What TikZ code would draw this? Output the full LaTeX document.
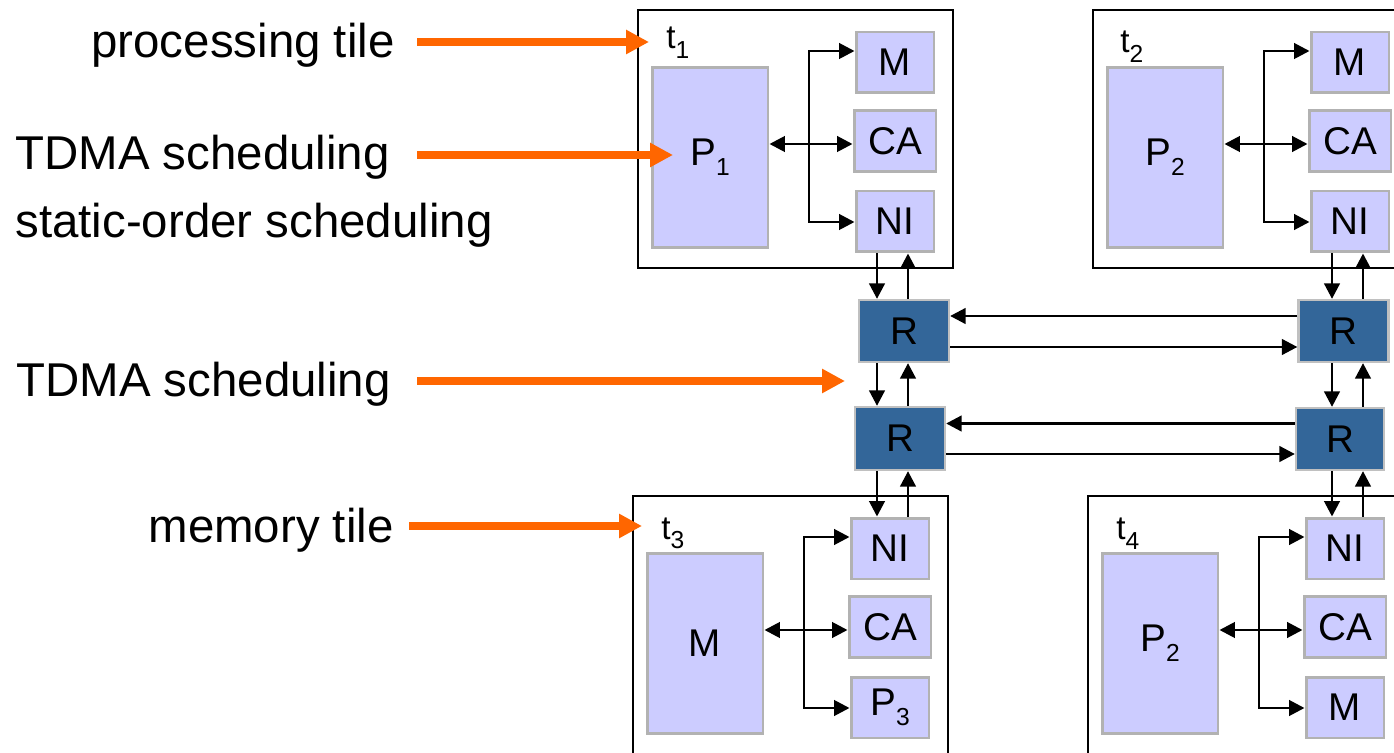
\documentclass[tikz,border=0pt]{standalone}
\usepackage{fontspec}
\setmainfont{Liberation Sans}
\usetikzlibrary{arrows.meta}

\definecolor{unitfill}{HTML}{CCCCFF}
\definecolor{unitline}{HTML}{B2B2B2}
\definecolor{routerfill}{HTML}{336699}
\definecolor{routerline}{HTML}{C0C0C0}
\definecolor{noteorange}{HTML}{FF6600}

\newcommand{\subidx}[1]{\raisebox{-5.5pt}{\fontsize{14pt}{14pt}\selectfont #1}}

\begin{document}
\begin{tikzpicture}[x=0.02cm, y=-0.02cm]
    \tikzstyle{tile} = [rectangle, draw, line width=1.5pt, inner sep=0pt, minimum width=6.3cm]
    \tikzstyle{unit} = [rectangle, draw=unitline, fill=unitfill, line width=1.7pt, inner sep=0pt, minimum width=1.56cm, minimum height=1.22cm, font=\fontsize{22pt}{26pt}\selectfont]
    \tikzstyle{core} = [unit, minimum width=2.32cm, minimum height=3.62cm]
    \tikzstyle{router} = [rectangle, draw=routerline, fill=routerfill, line width=1.3pt, inner sep=0pt, minimum width=1.8cm, minimum height=1.24cm, font=\fontsize{22pt}{26pt}\selectfont]
    \tikzstyle{tname} = [inner sep=0pt, anchor=base west, font=\fontsize{19pt}{22pt}\selectfont]
    \tikzstyle{lbl} = [inner sep=0pt, font=\fontsize{27pt}{32pt}\selectfont]
    \tikzstyle{arrow} = [line width=1.6pt, ->, >={Triangle[length=0.31cm,width=0.31cm]}]
    \tikzstyle{note} = [draw=noteorange, line width=4.5pt, -{Triangle[length=0.46cm,width=0.46cm]}]

    \useasboundingbox (0,0) rectangle (1394,753);
    \clip (0,0) rectangle (1394,753);

    % tiles
    \node [tile, minimum height=5.16cm] (tile1) at (795.5,139) {};
    \node [tile, minimum height=5.16cm] (tile2) at (1250.5,139) {};
    \node [tile, minimum height=5.4cm] (tile3) at (790.5,631) {};
    \node [tile, minimum height=5.4cm] (tile4) at (1245.5,631) {};
    \node [tname] (n1) at (666,49) {t\subidx{1}};
    \node [tname] (n2) at (1120,53) {t\subidx{2}};
    \node [tname] (n3) at (661,539) {t\subidx{3}};
    \node [tname] (n4) at (1116,540) {t\subidx{4}};

    % tile 1
    \node [core] (P1) at (710,157.5) {P\subidx{1}};
    \node [unit] (M1) at (895,62.5) {M};
    \node [unit, minimum width=1.64cm] (CA1) at (895,141) {CA};
    \node [unit] (NI1) at (895,221.5) {NI};
    \coordinate (b1t) at (809,51);
    \coordinate (b1m) at (809,144);
    \coordinate (b1b) at (809,222);
    \draw [arrow, <->] (M1.west |- b1t) -- (b1t) -- (b1b) -- (NI1.west |- b1b);
    \draw [arrow, <->] (P1.east |- b1m) -- (CA1.west |- b1m);

    % tile 2
    \node [core] (P2) at (1165,157.5) {P\subidx{2}};
    \node [unit] (M2) at (1350,62.5) {M};
    \node [unit, minimum width=1.64cm] (CA2) at (1350,141) {CA};
    \node [unit] (NI2) at (1350,221.5) {NI};
    \coordinate (b2t) at (1264,51);
    \coordinate (b2m) at (1264,144);
    \coordinate (b2b) at (1264,222);
    \draw [arrow, <->] (M2.west |- b2t) -- (b2t) -- (b2b) -- (NI2.west |- b2b);
    \draw [arrow, <->] (P2.east |- b2m) -- (CA2.west |- b2m);

    % tile 3
    \node [core] (M3) at (705,643.5) {M};
    \node [unit] (NI3) at (890,548.5) {NI};
    \node [unit, minimum width=1.64cm] (CA3) at (890,627) {CA};
    \node [unit] (P3) at (890,707.5) {P\subidx{3}};
    \coordinate (b3t) at (804,537);
    \coordinate (b3m) at (804,630);
    \coordinate (b3b) at (804,708);
    \draw [arrow, <->] (NI3.west |- b3t) -- (b3t) -- (b3b) -- (P3.west |- b3b);
    \draw [arrow, <->] (M3.east |- b3m) -- (CA3.west |- b3m);

    % tile 4
    \node [core] (P4) at (1160,643.5) {P\subidx{2}};
    \node [unit] (NI4) at (1345,548.5) {NI};
    \node [unit, minimum width=1.64cm] (CA4) at (1345,627) {CA};
    \node [unit] (M4) at (1345,707.5) {M};
    \coordinate (b4t) at (1259,537);
    \coordinate (b4m) at (1259,630);
    \coordinate (b4b) at (1259,708);
    \draw [arrow, <->] (NI4.west |- b4t) -- (b4t) -- (b4b) -- (M4.west |- b4b);
    \draw [arrow, <->] (P4.east |- b4m) -- (CA4.west |- b4m);

    % routers
    \node [router] (R1) at (904,331) {R};
    \node [router] (R2) at (1343.5,331) {R};
    \node [router, minimum height=1.26cm] (R3) at (900,438.5) {R};
    \node [router, minimum width=1.76cm, minimum height=1.24cm] (R4) at (1340,439) {R};

    \coordinate (lc1) at (877,0);
    \coordinate (lc2) at (908,0);
    \coordinate (rc1) at (1332,0);
    \coordinate (rc2) at (1363,0);
    \draw [arrow] (NI1.south -| lc1) -- (R1.north -| lc1);
    \draw [arrow] (R1.north -| lc2) -- (NI1.south -| lc2);
    \draw [arrow] (R1.south -| lc1) -- (R3.north -| lc1);
    \draw [arrow] (R3.north -| lc2) -- (R1.south -| lc2);
    \draw [arrow] (R3.south -| lc1) -- (NI3.north -| lc1);
    \draw [arrow] (NI3.north -| lc2) -- (R3.south -| lc2);
    \draw [arrow] (NI2.south -| rc1) -- (R2.north -| rc1);
    \draw [arrow] (R2.north -| rc2) -- (NI2.south -| rc2);
    \draw [arrow] (R2.south -| rc1) -- (R4.north -| rc1);
    \draw [arrow] (R4.north -| rc2) -- (R2.south -| rc2);
    \draw [arrow] (R4.south -| rc1) -- (NI4.north -| rc1);
    \draw [arrow] (NI4.north -| rc2) -- (R4.south -| rc2);
    \draw [arrow] ([yshift=0.3cm]R2.west) -- ([yshift=0.3cm]R2.west -| R1.east);
    \draw [arrow] ([yshift=-0.32cm]R1.east) -- ([yshift=-0.32cm]R1.east -| R2.west);
    \draw [arrow] ([yshift=0.31cm]R4.west) -- ([yshift=0.31cm]R4.west -| R3.east);
    \draw [arrow] ([yshift=-0.31cm]R3.east) -- ([yshift=-0.31cm]R3.east -| R4.west);

    % annotations
    \node [lbl, anchor=base east] (lproc) at (395,58) {processing tile};
    \node [lbl, anchor=base west] (ltdma) at (15,170) {TDMA scheduling};
    \node [lbl, anchor=base west] (lstatic) at (15,238) {static-order scheduling};
    \node [lbl, anchor=base west] (lnoc) at (16,397) {TDMA scheduling};
    \node [lbl, anchor=base east] (lmem) at (394,542) {memory tile};

    \coordinate (ax) at (417,0);
    \coordinate (e1) at (649,42);
    \coordinate (e2) at (673,155);
    \coordinate (e3) at (845,381);
    \coordinate (e4) at (642,526);
    \draw [note] (ax |- e1) -- (e1);
    \draw [note] (ax |- e2) -- (e2);
    \draw [note] (ax |- e3) -- (e3);
    \draw [note] ([xshift=-0.16cm]ax |- e4) -- (e4);
\end{tikzpicture}
\end{document}
